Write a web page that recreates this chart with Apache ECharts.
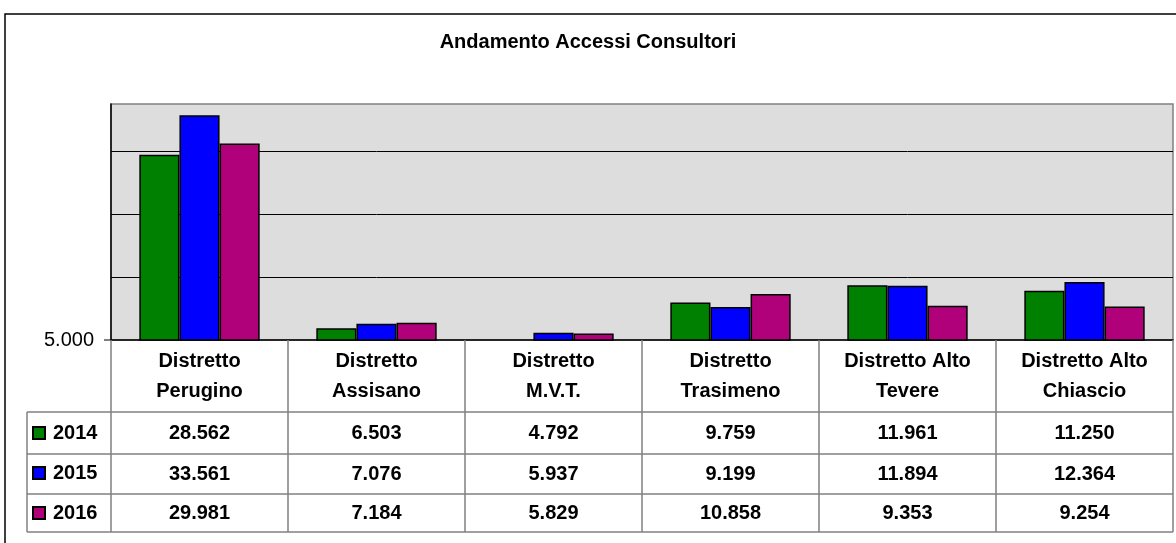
<!DOCTYPE html>
<html>
<head>
<meta charset="utf-8">
<script src="https://cdn.jsdelivr.net/npm/echarts@6/dist/echarts.min.js"></script>
<style>
  html, body { margin: 0; padding: 0; background: #fff; }
  #chart { width: 1176px; height: 543px; }
</style>
</head>
<body>
<div id="chart"></div>
<script>
// dati
const categories = [
  'Distretto\nPerugino',
  'Distretto\nAssisano',
  'Distretto\nM.V.T.',
  'Distretto\nTrasimeno',
  'Distretto Alto\nTevere',
  'Distretto Alto\nChiascio'
]
const years = ['2014', '2015', '2016']
const values2014 = [28562, 6503, 4792, 9759, 11961, 11250]
const values2015 = [33561, 7076, 5937, 9199, 11894, 12364]
const values2016 = [29981, 7184, 5829, 10858, 9353, 9254]
const yMin = 5000
const yMax = 35000
const gridValues = [13000, 21000, 29000]

const colors = ['#008000', '#0000FF', '#B0007A']
const font = "'Liberation Sans', Arial, sans-serif"
const allValues = [values2014, values2015, values2016]

// layout
const plotLeft = 111
const plotRight = 1173
const plotTop = 104
const axisY = 340
const rowCenters = [433, 474, 513]
const rowLines = [412, 454, 494, 532]
const tableLeft = 27

const fmt = (v) => String(v).replace(/\B(?=(\d{3})+(?!\d))/g, '.')

const chart = echarts.init(document.getElementById('chart'), null, { renderer: 'canvas' })

// assi per le righe della tabella dati
const rowAxes = allValues.map((vals, i) => ({
  type: 'category',
  data: categories,
  position: 'bottom',
  offset: rowCenters[i] - axisY,
  axisLine: { show: false },
  axisTick: { show: false },
  axisLabel: {
    interval: 0,
    margin: 0,
    verticalAlign: 'middle',
    fontFamily: font,
    fontSize: 20,
    fontWeight: 'bold',
    color: '#000',
    formatter: (value, idx) => fmt(vals[idx])
  }
}))

const graphicEls = [
  // cornice esterna
  {
    type: 'rect',
    shape: { x: 5, y: 14, width: 1200, height: 600 },
    style: { fill: 'none', stroke: '#000', lineWidth: 1.5 },
    silent: true
  },
  // tacca 5.000
  {
    type: 'line',
    shape: { x1: plotLeft - 7, y1: axisY, x2: plotLeft, y2: axisY },
    style: { stroke: '#000', lineWidth: 1 },
    silent: true
  },
  // bordo sinistro tabella
  {
    type: 'line',
    shape: { x1: tableLeft, y1: rowLines[0], x2: tableLeft, y2: rowLines[rowLines.length - 1] },
    style: { stroke: '#808080', lineWidth: 1.5 },
    silent: true
  }
]
rowLines.forEach(y => {
  graphicEls.push({
    type: 'line',
    shape: { x1: tableLeft, y1: y, x2: plotRight, y2: y },
    style: { stroke: '#808080', lineWidth: 1.5 },
    silent: true
  })
})

const option = {
  animation: false,
  backgroundColor: '#fff',
  title: {
    text: 'Andamento Accessi Consultori',
    left: 'center',
    top: 27,
    textStyle: {
      fontFamily: font,
      fontSize: 20,
      fontWeight: 'bold',
      color: '#000'
    }
  },
  legend: {
    orient: 'vertical',
    left: 32,
    top: rowCenters[0] - 10,
    padding: 0,
    itemGap: 20,
    itemWidth: 12,
    itemHeight: 12,
    icon: 'rect',
    selectedMode: false,
    data: years,
    textStyle: {
      fontFamily: font,
      fontSize: 20,
      fontWeight: 'bold',
      color: '#000',
      lineHeight: 20,
      padding: [0, 0, 0, 3]
    }
  },
  grid: {
    left: plotLeft,
    right: 1176 - plotRight,
    top: plotTop,
    bottom: 543 - axisY,
    show: true,
    backgroundColor: '#DDDDDD',
    borderColor: '#808080',
    borderWidth: 1.5
  },
  xAxis: [
    {
      type: 'category',
      data: categories,
      axisLine: { show: true, lineStyle: { color: '#000', width: 1.5 } },
      axisTick: {
        show: true,
        interval: 0,
        length: rowLines[rowLines.length - 1] - axisY,
        lineStyle: { color: '#808080', width: 1.5 }
      },
      axisLabel: {
        interval: 0,
        margin: 6,
        fontFamily: font,
        fontSize: 20,
        fontWeight: 'bold',
        color: '#000',
        lineHeight: 30
      }
    },
    ...rowAxes
  ],
  yAxis: {
    type: 'value',
    min: yMin,
    max: yMax,
    interval: 5000,
    axisLine: { show: true, lineStyle: { color: '#000', width: 1.5 } },
    axisTick: { show: false },
    splitLine: { show: false },
    axisLabel: {
      margin: 17,
      fontFamily: font,
      fontSize: 20,
      color: '#000',
      formatter: (v) => (v === yMin ? fmt(v) : '')
    }
  },
  series: years.map((y, i) => ({
    name: y,
    type: 'bar',
    data: allValues[i],
    barGap: '0%',
    barCategoryGap: '32%',
    itemStyle: {
      color: colors[i],
      borderColor: '#000',
      borderWidth: 1.5
    },
    markLine: i === 0 ? {
      z: 1,
      silent: true,
      symbol: 'none',
      label: { show: false },
      lineStyle: { color: '#000', type: 'solid', width: 1 },
      data: gridValues.map(v => ({ yAxis: v }))
    } : undefined
  })),
  graphic: graphicEls
}

chart.setOption(option)
</script>
</body>
</html>
